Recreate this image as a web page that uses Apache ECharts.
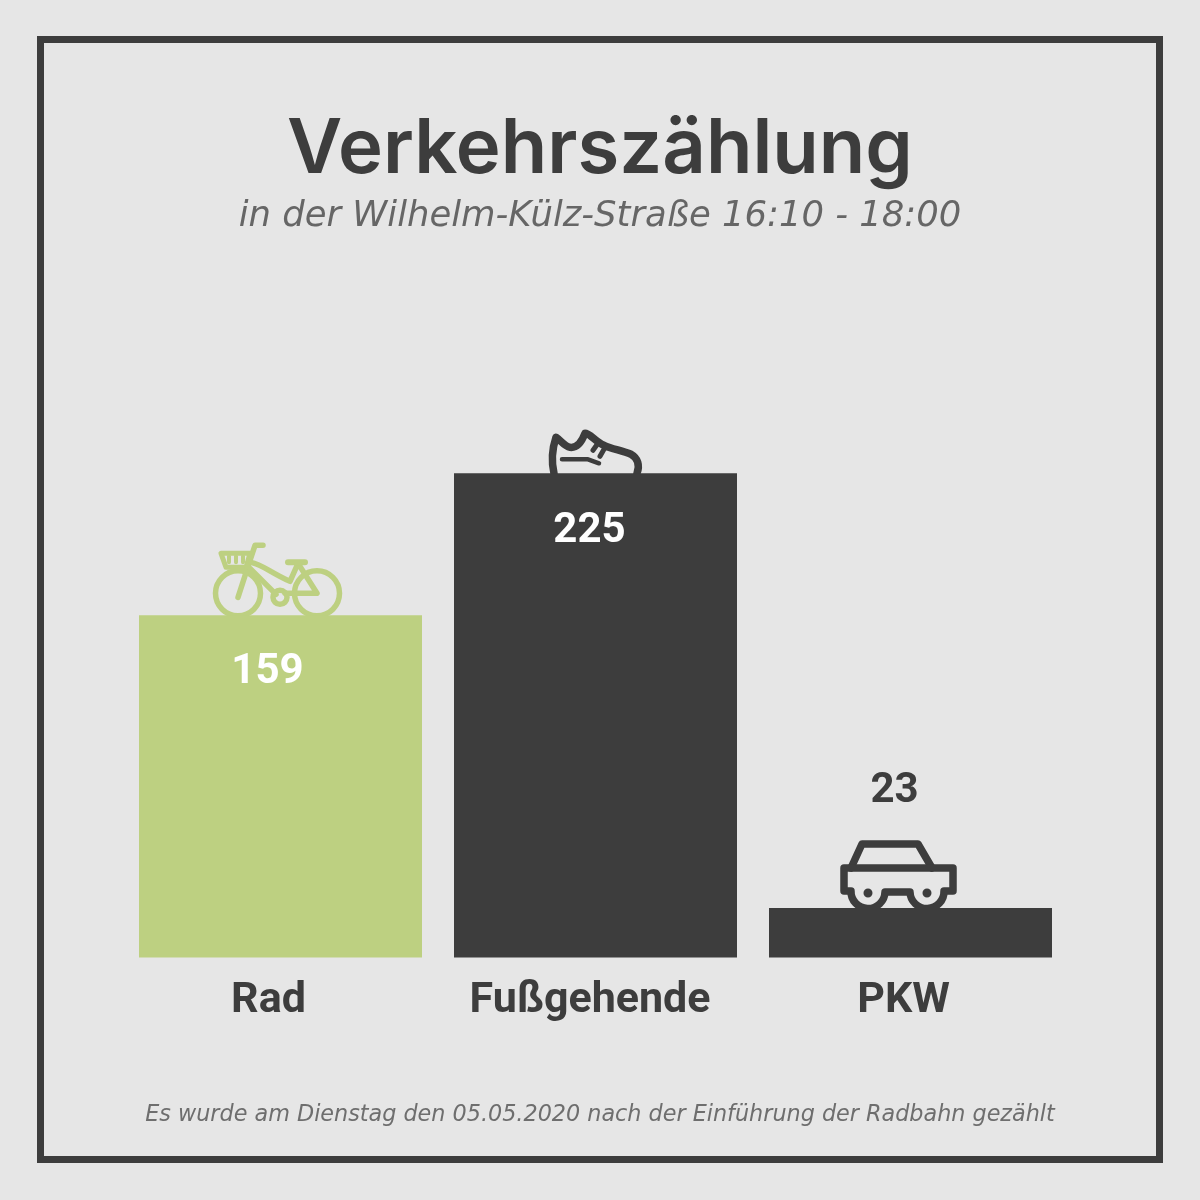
<!DOCTYPE html>
<html>
<head>
<meta charset="utf-8">
<title>Verkehrszählung</title>
<script src="https://cdn.jsdelivr.net/npm/echarts@6/dist/echarts.min.js"></script>
<style>
    html, body { margin: 0; padding: 0; background: #e6e6e6; }
    #chart { width: 1200px; height: 1200px; }
</style>
</head>
<body>
<div id="chart"></div>
<script>
const categories = ['Rad', 'Fußgehende', 'PKW'];
const counts = [159, 225, 23];
const barColors = ['#bdd081', '#3d3d3d', '#3d3d3d'];
const labelColors = ['#ffffff', '#ffffff', '#3d3d3d'];

const titleText = 'Verkehrszählung';
const subtitleText = 'in der Wilhelm-Külz-Straße 16:10 - 18:00';
const footerText = 'Es wurde am Dienstag den 05.05.2020 nach der Einführung der Radbahn gezählt';

const dark = '#3d3d3d';

// icons are drawn around the top centre of their bar
const icons = [
    {
        origin: [280.5, 615],
        parts: [
            { w: 5.5, d: 'M238 593m-22.5 0a22.5 22.5 0 1 0 45 0a22.5 22.5 0 1 0 -45 0' },
            { w: 5.5, d: 'M317 593m-22.5 0a22.5 22.5 0 1 0 45 0a22.5 22.5 0 1 0 -45 0' },
            { w: 5.5, d: 'M280 597m-7 0a7 7 0 1 0 14 0a7 7 0 1 0 -14 0' },
            { w: 5, d: 'M221 553H250L246 567H226Z' },
            { w: 4, d: 'M229 556V562M236 556V562M243 556V562' },
            { w: 5.5, d: 'M263 545H255L249 563L238 597' },
            { w: 5.5, d: 'M251 562C262 564 270 572 290 581L298 563M250 568L276 594M298 563L317 593H285' },
            { w: 6, d: 'M288 562H305' }
        ]
    },
    {
        origin: [595.5, 473],
        parts: [
            { w: 7.5, d: 'M554 473C551 460 553 446 556 437C561 440 564 446 570 447C578 448 582 441 585 433C590 433 596 442 604 445C612 449 622 450 631 454C638 458 640 465 637 473' },
            { w: 4.5, d: 'M562 459H588L599 463' },
            { w: 5, d: 'M593 450L598 443M600 456L604 449' }
        ]
    },
    {
        origin: [910.5, 908],
        parts: [
            { w: 7.5, d: 'M851 868L862 844H918L932 868' },
            { w: 7.5, d: 'M851 891H844V868H953V891H944A16.5 16.5 0 0 1 910 892H885A16.5 16.5 0 0 1 851 891' },
            { w: 7, d: 'M868 893m-1 0a1 1 0 1 0 2 0a1 1 0 1 0 -2 0' },
            { w: 7, d: 'M927 893m-1 0a1 1 0 1 0 2 0a1 1 0 1 0 -2 0' }
        ]
    }
];

// shift of the value labels relative to the bar
const labelPlacement = [
    { position: 'insideTop', offset: [-13, 31] },
    { position: 'insideTop', offset: [-6, 32] },
    { position: 'top', offset: [-16, -91] }
];
// category labels sit a little left of the bar centre
const axisLabelPadding = [24, 11, 14];

let myChart = echarts.init(document.getElementById('chart'), null, { renderer: 'canvas' });

let barData = [];
let iconData = [];
for (let i = 0; i < categories.length; i++) {
    barData.push({
        value: counts[i],
        itemStyle: { color: barColors[i] },
        label: {
            show: true,
            color: labelColors[i],
            position: labelPlacement[i].position,
            offset: labelPlacement[i].offset
        }
    });
    iconData.push([i, counts[i]]);
}

let axisRich = {};
for (let i = 0; i < categories.length; i++) {
    axisRich['c' + i] = {
        fontFamily: 'Roboto',
        fontWeight: 'bold',
        fontSize: 43,
        color: dark,
        padding: [0, axisLabelPadding[i], 0, 0]
    };
}

let option = {
    backgroundColor: '#e6e6e6',
    animation: false,
    title: {
        text: titleText,
        subtext: subtitleText,
        left: 'center',
        top: 107,
        itemGap: 11,
        textStyle: {
            fontFamily: 'Inter',
            fontWeight: 600,
            fontSize: 76,
            color: dark
        },
        subtextStyle: {
            fontFamily: 'DejaVu Sans',
            fontStyle: 'italic',
            fontSize: 35.4,
            color: '#666666'
        }
    },
    grid: { left: 123, top: 419.5, width: 945, height: 538 },
    xAxis: {
        type: 'category',
        data: categories,
        axisLine: { show: false },
        axisTick: { show: false },
        axisLabel: {
            margin: 22,
            formatter: function (value, index) {
                return '{c' + index + '|' + value + '}';
            },
            rich: axisRich
        }
    },
    yAxis: {
        type: 'value',
        min: 0,
        max: 250,
        show: false
    },
    series: [
        {
            name: 'Anzahl',
            type: 'bar',
            barWidth: 283,
            data: barData,
            label: {
                fontFamily: 'Roboto',
                fontWeight: 'bold',
                fontSize: 42
            }
        },
        {
            type: 'custom',
            silent: true,
            data: iconData,
            renderItem: function (params, api) {
                let i = api.value(0);
                let top = api.coord([i, api.value(1)]);
                let icon = icons[i];
                return {
                    type: 'group',
                    x: top[0] - icon.origin[0],
                    y: top[1] - icon.origin[1],
                    children: icon.parts.map(function (part) {
                        return {
                            type: 'path',
                            shape: { pathData: part.d },
                            style: {
                                fill: null,
                                stroke: barColors[i],
                                lineWidth: part.w,
                                lineJoin: 'round',
                                lineCap: 'round'
                            }
                        };
                    })
                };
            }
        }
    ],
    graphic: [
        {
            type: 'rect',
            silent: true,
            shape: { x: 40.5, y: 39.5, width: 1119, height: 1120 },
            style: { fill: null, stroke: dark, lineWidth: 7 }
        },
        {
            type: 'text',
            silent: true,
            x: 600,
            y: 1115,
            style: {
                text: footerText,
                fontFamily: 'DejaVu Sans',
                fontStyle: 'italic',
                fontSize: 22.3,
                fill: '#6e6e6e',
                align: 'center',
                verticalAlign: 'middle'
            }
        }
    ]
};

myChart.setOption(option);
</script>
</body>
</html>
